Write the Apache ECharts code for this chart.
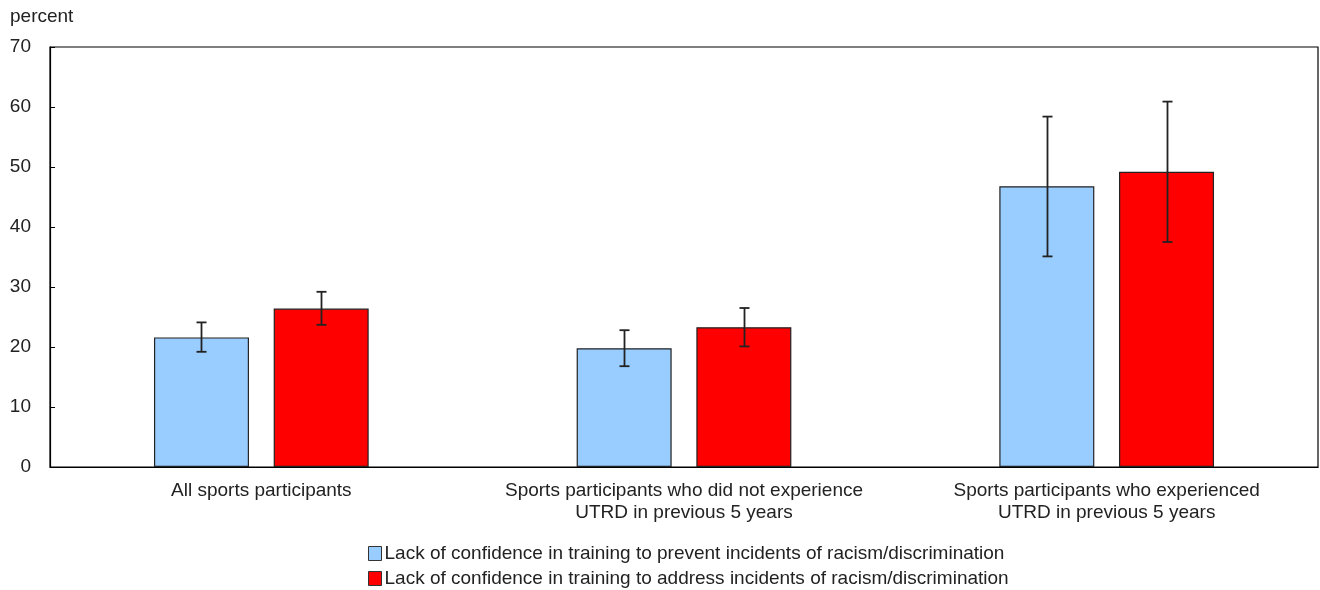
<!DOCTYPE html>
<html>
<head>
<meta charset="utf-8">
<style>
  html, body { margin: 0; padding: 0; background: #fff; }
  #chart { width: 1320px; height: 590px; }
</style>
<script src="https://cdn.jsdelivr.net/npm/echarts@6/dist/echarts.min.js"></script>
</head>
<body>
<div id="chart"></div>
<script>
// Categories and values (percent)
const categories = [
  'All sports participants',
  'Sports participants who did not experience\nUTRD in previous 5 years',
  'Sports participants who experienced\nUTRD in previous 5 years'
];
const seriesNames = [
  'Lack of confidence in training to prevent incidents of racism/discrimination',
  'Lack of confidence in training to address incidents of racism/discrimination'
];
const preventValues = [21.6, 19.8, 46.8];
const preventLow = [19.2, 16.8, 35.1];
const preventHigh = [24.1, 22.8, 58.4];
const addressValues = [26.4, 23.3, 49.2];
const addressLow = [23.7, 20.1, 37.5];
const addressHigh = [29.2, 26.5, 60.9];
const yTicks = [0, 10, 20, 30, 40, 50, 60, 70];

const FONT = '"Liberation Sans", Arial, sans-serif';
const FS = 19;
const colors = ['#99ccff', '#ff0000'];
const BAR_W = 95;
const BAR_GAP = '26%';

const chart = echarts.init(document.getElementById('chart'), null, { renderer: 'canvas' });

// Error bar drawn at the centre of each bar of a given series index
function errorBarSeries(seriesIdx, low, high) {
  return {
    type: 'custom',
    name: seriesNames[seriesIdx] + ' (CI)',
    data: categories.map((c, i) => [i, low[i], high[i]]),
    z: 10,
    silent: true,
    renderItem: function (params, api) {
      const cat = api.value(0);
      const lo = api.coord([cat, api.value(1)]);
      const hi = api.coord([cat, api.value(2)]);
      const gap = BAR_W * 0.26;
      const offset = (seriesIdx === 0 ? -1 : 1) * (BAR_W + gap) / 2;
      const x = Math.round(lo[0] + offset) + 0.5;
      const cap = 5;
      const style = { stroke: '#222', lineWidth: 1.8 };
      return {
        type: 'group',
        children: [
          { type: 'line', shape: { x1: x, y1: hi[1], x2: x, y2: lo[1] }, style: style },
          { type: 'line', shape: { x1: x - cap, y1: hi[1], x2: x + cap, y2: hi[1] }, style: style },
          { type: 'line', shape: { x1: x - cap, y1: lo[1], x2: x + cap, y2: lo[1] }, style: style }
        ]
      };
    }
  };
}

const option = {
  animation: false,
  textStyle: { fontFamily: FONT },
  graphic: [{
    type: 'text', left: 10, top: 7,
    style: { text: 'percent', font: FS + 'px ' + FONT, fill: '#222' }
  }],
  grid: {
    left: 50, right: 2, top: 47, bottom: 123,
    show: true, borderColor: '#000', borderWidth: 1.2, backgroundColor: 'transparent'
  },
  legend: {
    orient: 'vertical',
    left: 368, top: 544,
    padding: 0,
    itemWidth: 13, itemHeight: 14, itemGap: 6,
    icon: 'rect',
    data: seriesNames.map((n, i) => ({
      name: n,
      itemStyle: { color: colors[i], borderColor: '#333', borderWidth: 1 }
    })),
    textStyle: { fontFamily: FONT, fontSize: FS, color: '#222', padding: [0, 0, 0, -2] },
    selectedMode: false
  },
  xAxis: {
    type: 'category',
    data: categories,
    axisLine: { show: true, lineStyle: { color: '#000', width: 1.2 } },
    axisTick: { show: false },
    axisLabel: { fontFamily: FONT, fontSize: FS, color: '#222', lineHeight: 22, margin: 13, interval: 0 }
  },
  yAxis: {
    type: 'value',
    min: yTicks[0], max: yTicks[yTicks.length - 1], interval: 10,
    axisLine: { show: true, lineStyle: { color: '#000', width: 1.2 } },
    axisTick: { show: true, inside: true, length: 5, lineStyle: { color: '#000' } },
    splitLine: { show: false },
    axisLabel: { fontFamily: FONT, fontSize: FS, color: '#222', margin: 19 }
  },
  series: [
    {
      type: 'bar', name: seriesNames[0], data: preventValues,
      barWidth: BAR_W, barGap: BAR_GAP,
      itemStyle: { color: colors[0], borderColor: '#222', borderWidth: 1.2 }
    },
    {
      type: 'bar', name: seriesNames[1], data: addressValues,
      barWidth: BAR_W, barGap: BAR_GAP,
      itemStyle: { color: colors[1], borderColor: '#222', borderWidth: 1.2 }
    },
    errorBarSeries(0, preventLow, preventHigh),
    errorBarSeries(1, addressLow, addressHigh)
  ]
};

chart.setOption(option);
</script>
</body>
</html>
